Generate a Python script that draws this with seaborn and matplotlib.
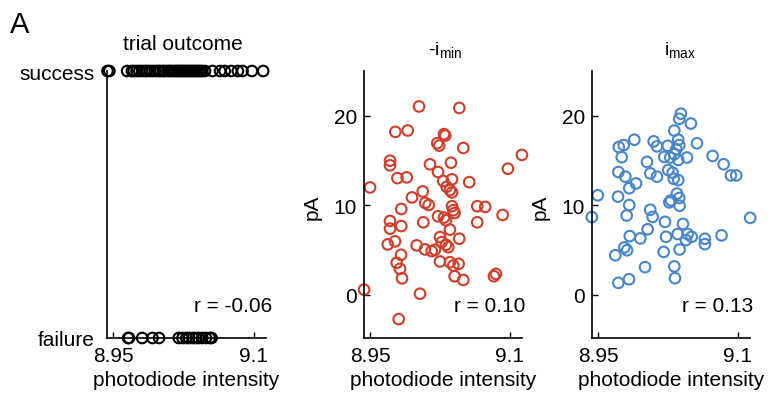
import matplotlib
matplotlib.use("Agg")
from matplotlib import pyplot as plt
import pandas as pd
import seaborn as sns

# trial outcome panel: photodiode intensity for success / failure trials
success_x = [8.9440, 8.9460, 8.9650, 8.9700, 8.9720, 8.9750, 8.9780, 8.9810, 8.9840,
             8.9860, 8.9890, 8.9920, 8.9950, 8.9980, 9.0000, 9.0030, 9.0050, 9.0080,
             9.0100, 9.0120, 9.0150, 9.0170, 9.0190, 9.0210, 9.0230, 9.0250, 9.0270,
             9.0290, 9.0310, 9.0330, 9.0350, 9.0370, 9.0390, 9.0410, 9.0430, 9.0450,
             9.0480, 9.0560, 9.0640, 9.0690, 9.0760, 9.0830, 9.0880, 9.0980, 9.1100]
failure_x = [8.9660, 8.9670, 8.9810, 8.9920, 8.9990, 9.0200, 9.0240, 9.0280, 9.0310,
             9.0350, 9.0380, 9.0410, 9.0450, 9.0490, 9.0530, 9.0550]

# -i_min panel
imin_x = [9.0025, 9.0457, 8.9771, 8.9904, 9.0293, 9.0307, 9.0221, 9.0242, 9.0500, 9.1129,
          8.9714, 8.9714, 9.0143, 9.0368, 9.0979, 9.0229, 8.9793, 8.9893, 8.9500, 9.0285,
          9.0379, 9.0564, 9.0322, 9.0357, 9.0379, 9.0065, 8.9950, 9.0092, 9.0129, 8.9835,
          9.0379, 9.0393, 9.0407, 9.0650, 9.0735, 8.9714, 8.9714, 8.9835, 9.0071, 9.0229,
          9.0314, 9.0293, 9.0650, 9.0922, 9.0357, 9.0250, 9.0457, 8.9690, 8.9768, 9.0000,
          9.0089, 9.0161, 9.0196, 9.0268, 9.0314, 9.0339, 8.9832, 8.9786, 8.9821, 8.9843,
          9.0250, 9.0357, 9.0393, 9.0450, 9.0407, 9.0500, 9.0829, 9.0850, 8.9436, 9.0036,
          8.9807]
imin_y = [21.04, 20.87, 18.20, 18.35, 17.94, 17.79, 16.93, 16.66, 16.40, 15.62,
          14.98, 14.46, 14.57, 14.75, 14.08, 13.71, 13.03, 13.11, 11.99, 12.70,
          12.89, 12.58, 12.06, 11.69, 11.43, 11.54, 10.87, 10.26, 10.03, 9.58,
          9.89, 9.44, 9.13, 9.89, 9.81, 8.24, 7.38, 7.67, 8.09, 8.76,
          8.31, 8.62, 8.09, 8.91, 7.27, 6.44, 6.26, 5.62, 5.96, 5.51,
          5.06, 4.87, 5.02, 5.88, 5.58, 5.31, 4.46, 3.56, 2.89, 1.83,
          3.71, 3.63, 3.26, 3.45, 2.06, 1.65, 2.06, 2.33, 0.56, 0.11,
          -2.73]

# i_max panel
imax_x = [9.0389, 9.0371, 9.0496, 9.0318, 8.9889, 8.9722, 8.9775, 9.0097, 9.0132, 9.0247,
          9.0360, 9.0371, 9.0339, 9.0561, 8.9754, 9.0210, 9.0275, 9.0318, 9.0360, 9.0454,
          9.0729, 9.0847, 9.0925, 9.0982, 9.0025, 8.9718, 8.9793, 9.0060, 9.0132, 9.0253,
          9.0300, 9.0311, 9.0360, 8.9907, 8.9835, 8.9497, 8.9714, 9.0346, 9.0282, 9.0264,
          9.0371, 9.0375, 8.9835, 8.9433, 8.9807, 9.0060, 9.0086, 9.0218, 9.0032, 9.0411,
          9.1132, 8.9840, 8.9953, 9.0229, 9.0354, 9.0461, 9.0504, 9.0646, 9.0825, 8.9782,
          8.9811, 8.9685, 9.0204, 9.0375, 9.0443, 9.0646, 9.0004, 9.0318, 9.0325, 8.9718,
          8.9832]
imax_y = [20.23, 19.66, 19.13, 18.34, 17.32, 16.50, 16.72, 17.14, 16.58, 16.64,
          17.32, 16.72, 16.27, 16.92, 15.37, 15.40, 15.33, 15.71, 15.06, 15.33,
          15.51, 14.58, 13.33, 13.33, 14.84, 13.71, 13.19, 13.56, 13.19, 13.93,
          13.64, 12.96, 12.80, 12.43, 11.90, 11.11, 10.96, 11.30, 10.54, 10.32,
          10.81, 9.94, 10.02, 8.67, 8.85, 9.49, 8.70, 8.14, 7.31, 7.91,
          8.59, 6.55, 6.29, 6.47, 6.78, 6.78, 6.47, 6.25, 6.63, 5.28,
          4.97, 4.41, 4.78, 5.05, 6.10, 5.65, 3.08, 3.16, 1.84, 1.32,
          1.73]

r_values = ["r = -0.06", "r = 0.10", "r = 0.13"]
red = "#cf3e2a"
blue = "#4886c9"

sns.set_style("white")
plt.rcParams["font.family"] = ["Liberation Sans", "DejaVu Sans"]
plt.rcParams["mathtext.default"] = "regular"
plt.rcParams["text.color"] = "black"
plt.rcParams["axes.labelcolor"] = "black"

fig = plt.figure(figsize=(7.77, 4.02), dpi=100)
W, H = 777.0, 402.0
top, bottom = 72, 339
axA = fig.add_axes([107 / W, 1 - bottom / H, 159 / W, (bottom - top) / H])
axB = fig.add_axes([364 / W, 1 - bottom / H, 158 / W, (bottom - top) / H])
axC = fig.add_axes([592 / W, 1 - bottom / H, 158 / W, (bottom - top) / H])

pts = dict(s=58, facecolor="none", linewidth=1.5, marker="o", clip_on=False, legend=False)

outcome = pd.DataFrame({"x": success_x + failure_x,
                        "y": [1] * len(success_x) + [0] * len(failure_x)})
sns.scatterplot(data=outcome, x="x", y="y", ax=axA, edgecolor="black", **pts)
sns.scatterplot(x=imin_x, y=imin_y, ax=axB, edgecolor=red, **pts)
sns.scatterplot(x=imax_x, y=imax_y, ax=axC, edgecolor=blue, **pts)

for ax in (axA, axB, axC):
    ax.set_xlim(8.9435, 9.113)
    ax.set_xticks([8.95, 9.1])
    ax.set_xticklabels(["8.95", "9.1"])
    for s in ("top", "right"):
        ax.spines[s].set_visible(False)
    for s in ("left", "bottom"):
        ax.spines[s].set_linewidth(1.2)
        ax.spines[s].set_color("black")
    ax.tick_params(direction="in", length=4, width=1, labelsize=15, pad=6,
                   colors="black", left=True, bottom=True)
    ax.set_xlabel("photodiode intensity", fontsize=15)
    ax.xaxis.set_label_coords(0.5, -0.12)
    ax.patch.set_alpha(0)

axA.set_ylim(0, 1)
axA.set_yticks([0, 1])
axA.set_yticklabels(["failure", "success"])
axA.tick_params(axis="y", length=0, pad=9)
axA.set_ylabel("")

for ax in (axB, axC):
    ax.set_ylim(-4.84, 25)
    ax.set_yticks([0, 10, 20])
    ax.tick_params(axis="y", pad=5)
    ax.set_ylabel("pA", fontsize=15)
    ax.yaxis.set_label_coords(-0.265, 0.494)

for ax, r in zip((axA, axB, axC), r_values):
    ax.text(1.04 if ax is axA else 1.02, 0.12, r, transform=ax.transAxes,
            ha="right", va="center", fontsize=15)

fig.text(183 / W, 1 - 45 / H, "trial outcome", ha="center", va="center", fontsize=15)
fig.text(445 / W, 1 - 50 / H, r"-i$_{min}$", ha="center", va="center", fontsize=14)
fig.text(680 / W, 1 - 50 / H, r"i$_{max}$", ha="center", va="center", fontsize=14)
fig.text(10 / W, 1 - 25 / H, "A", ha="left", va="center", fontsize=21)

fig.savefig("out.png", dpi=100)
